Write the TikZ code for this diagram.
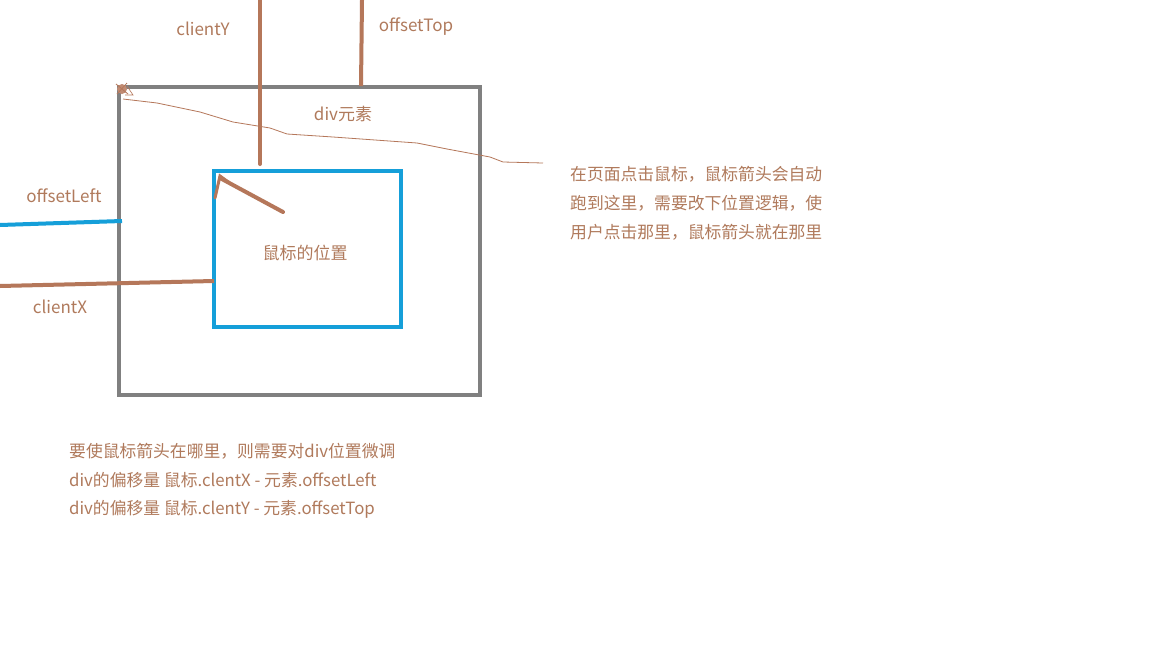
\documentclass[tikz,border=0pt]{standalone}
\usepackage{fontspec}
\setmainfont{Noto Sans CJK SC}
\definecolor{brn}{HTML}{B5775A}
\definecolor{txt}{HTML}{B07A5C}
\definecolor{gry}{HTML}{808080}
\definecolor{blu}{HTML}{159FD9}
\begin{document}
\begin{tikzpicture}[x=1pt,y=-1pt,
  lbl/.style={text=txt,font=\fontsize{17}{20}\selectfont,inner sep=0pt},
  pl/.style={text=txt,font=\fontsize{16.8}{20}\selectfont,inner sep=0pt,anchor=west},
  boxst/.style={line width=4pt,anchor=north west,inner sep=0pt,outer sep=0pt},
  brline/.style={draw=brn,line width=4pt,line cap=round}]
\useasboundingbox (0,0) rectangle (1152,648);
\fill[white] (0,0) rectangle (1152,648);
% boxes
\node[boxst,draw=gry,minimum width=361pt,minimum height=308pt] (outer) at (119,87) {};
\node[boxst,draw=blu,minimum width=187pt,minimum height=156pt] (inner) at (214,171) {};
% coordinates
\coordinate (cyTop) at (260,0);
\coordinate (cyBot) at (260,164);
\coordinate (otTop) at (362,0);
\coordinate (otBot) at (361,86);
\coordinate (olL) at (0,225);
\coordinate (olR) at (122,221);
\coordinate (cxL) at (0,286);
\coordinate (cxR) at (214,281);
\coordinate (arS) at (283,212);
\coordinate (arE) at (220,178);
% lines
\draw[brline] (cyTop) -- (cyBot);
\draw[brline,line cap=butt] (otTop) -- (otBot);
\draw[draw=blu,line width=4pt] (olL) -- (olR);
\draw[draw=brn,line width=4pt] (cxL) -- (cxR);
\draw[brline] (arS) -- (arE);
\draw[draw=brn,line width=3pt,line cap=round] (215,198) -- (220,176) -- (231,184);
% cursor scribble
\fill[brn!85] (122,89) circle (5pt);
\draw[brn,line width=0.8pt] (116,84) -- (128,94) (117,94) -- (127,83);
\draw[brn,line width=0.6pt] (127,86) -- (133,95) -- (125,95);
% thin wobbly line
\draw[brn,line width=0.8pt] (123,99) -- (157,103) -- (200,112) -- (233,122) -- (270,128) -- (287,134) -- (333,137) -- (417,143) -- (447,149) -- (490,157) -- (503,162) -- (543,163);
% labels
\node[lbl] (tcy) at (203,29) {clientY};
\node[lbl] (tot) at (416,27) {offsetTop};
\node[lbl] (tdiv) at (343,114) {div元素};
\node[lbl] (tol) at (64,196) {offsetLeft};
\node[lbl] (tcx) at (60,307) {clientX};
\node[lbl] (tpos) at (305,253) {鼠标的位置};
\node[pl] (r1) at (570,174) {在页面点击鼠标，鼠标箭头会自动};
\node[pl] (r2) at (570,203) {跑到这里，需要改下位置逻辑，使};
\node[pl] (r3) at (570,232) {用户点击那里，鼠标箭头就在那里};
\node[pl] (b1) at (69,451) {要使鼠标箭头在哪里，则需要对div位置微调};
\node[pl] (b2) at (69,480) {div的偏移量 鼠标.clentX - 元素.offsetLeft};
\node[pl] (b3) at (69,509) {div的偏移量 鼠标.clentY - 元素.offsetTop};
\end{tikzpicture}
\end{document}
